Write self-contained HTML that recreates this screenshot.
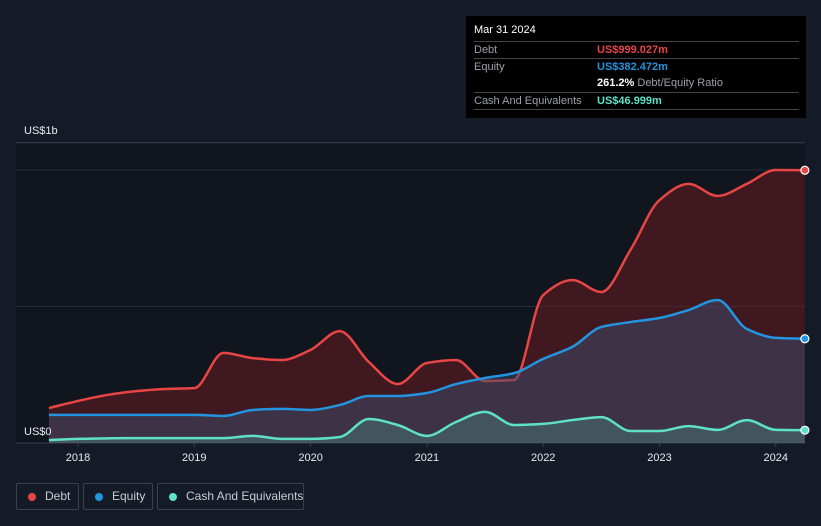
<!DOCTYPE html>
<html><head><meta charset="utf-8">
<style>
html,body{margin:0;padding:0;background:#151b26;width:821px;height:526px;overflow:hidden;font-family:"Liberation Sans",sans-serif}
#tip{position:absolute;left:466px;top:16px;width:340px;height:102px;background:#000;color:#fff;font-size:11px}
.row{position:absolute;left:8px;width:325px;border-top:1px solid #444;height:16px;line-height:16px}
.lbl{position:absolute;left:0;color:#9aa0a8;white-space:nowrap}
.val{position:absolute;left:123px;font-weight:bold;white-space:nowrap}
.leg{position:absolute;top:483px;height:27px;border:1px solid #3a404c;border-radius:2px;color:#c8ccd2;font-size:12px;line-height:25px;box-sizing:border-box;white-space:nowrap}
.dot{position:absolute;left:11px;top:9px;width:8px;height:8px;border-radius:50%}
</style></head><body>
<svg id="chart" width="821" height="526" style="position:absolute;left:0;top:0">
<rect x="16" y="143" width="789" height="300" fill="#11151e"/>
<g id="grid"></g>
<g id="series"></g>
<g id="xaxis"></g>
<text x="24" y="134" fill="#e6e8ec" font-size="11">US$1b</text>
<text x="24" y="435" fill="#e6e8ec" font-size="11">US$0</text>
</svg>
<div id="tip">
<div style="position:absolute;left:8px;top:8px;font-size:11px">Mar 31 2024</div>
<div class="row" style="top:25px"><span class="lbl">Debt</span><span class="val" style="color:#e84545">US$999.027m</span></div>
<div class="row" style="top:42px"><span class="lbl">Equity</span><span class="val" style="color:#2394e0">US$382.472m</span></div>
<div class="row" style="top:59px;border-top:none"><span class="val" style="color:#fff">261.2% <span style="color:#9aa0a8;font-weight:normal">Debt/Equity Ratio</span></span></div>
<div class="row" style="top:76px;border-bottom:1px solid #444"><span class="lbl">Cash And Equivalents</span><span class="val" style="color:#5fe0c8">US$46.999m</span></div>
</div>
<div class="leg" style="left:16px;width:63px"><span class="dot" style="background:#e84545"></span><span style="position:absolute;left:28px">Debt</span></div>
<div class="leg" style="left:83px;width:70px"><span class="dot" style="background:#2394e0"></span><span style="position:absolute;left:28px">Equity</span></div>
<div class="leg" style="left:157px;width:147px"><span class="dot" style="background:#5fe0c8"></span><span style="position:absolute;left:28px">Cash And Equivalents</span></div>
<script>
const dates=[2017.75,2018,2018.25,2018.5,2018.75,2019,2019.25,2019.5,2019.75,2020,2020.25,2020.5,2020.75,2021,2021.25,2021.5,2021.75,2022,2022.25,2022.5,2022.75,2023,2023.25,2023.5,2023.75,2024,2024.25];
const debt=[128,154,176,190,198,201,330,311,304,341,410,297,216,293,304,227,231,542,597,553,707,890,949,905,949,1000,999];
const equity=[103,103,103,103,103,103,99,121,125,121,139,172,172,183,216,238,256,308,352,425,443,458,487,524,418,385,382];
const cash=[11,15,17,18,18,18,18,26,15,15,22,88,66,26,77,114,66,70,84,95,44,44,62,48,84,48,47];
const years=[2018,2019,2020,2021,2022,2023,2024];
const gridVals=[0,500,1000,1100];
const NS='http://www.w3.org/2000/svg';
function xs(d){return 78+(d-2018)*116.3;}
function ys(v){return 443-v*0.273;}
function mk(t,a,p){const e=document.createElementNS(NS,t);for(const k in a)e.setAttribute(k,a[k]);p.appendChild(e);return e;}
const grid=document.getElementById('grid');
gridVals.forEach(v=>{const l=mk('line',{x1:16,x2:805,y1:ys(v),y2:ys(v),stroke:(v==0||v==1100)?'#3a404c':'#262b36','stroke-width':1},grid);

});
const xa=document.getElementById('xaxis');
years.forEach(y=>{const t=mk('text',{x:xs(y),y:461,fill:'#e6e8ec','font-size':11,'text-anchor':'middle'},xa);t.textContent=y;


mk('line',{x1:xs(y),x2:xs(y),y1:443,y2:447,stroke:'#3a404c'},xa);});
function path(vals){const p=vals.map((v,i)=>[xs(dates[i]),ys(v)]);const n=p.length;
const dl=[],m=[];for(let i=0;i<n-1;i++)dl.push((p[i+1][1]-p[i][1])/(p[i+1][0]-p[i][0]));
m[0]=dl[0];m[n-1]=dl[n-2];
for(let i=1;i<n-1;i++){m[i]=(dl[i-1]*dl[i]<=0)?0:2/(1/dl[i-1]+1/dl[i]);}
let d='M'+p[0][0]+','+p[0][1];
for(let i=0;i<n-1;i++){const h=(p[i+1][0]-p[i][0])/3;
d+=' C'+(p[i][0]+h)+','+(p[i][1]+m[i]*h)+' '+(p[i+1][0]-h)+','+(p[i+1][1]-m[i+1]*h)+' '+p[i+1][0]+','+p[i+1][1];}
return {d,first:p[0],last:p[n-1]};}
const g=document.getElementById('series');
[[debt,'#e84545','rgba(120,30,34,0.45)','debt'],[equity,'#2394e0','rgba(60,75,110,0.5)','equity'],[cash,'#5fe0c8','rgba(80,170,150,0.3)','cash']].forEach(s=>{
const r=path(s[0]);
const a=mk('path',{d:r.d+' L'+r.last[0]+',443 L'+r.first[0]+',443 Z',fill:s[2]},g);


const l=mk('path',{d:r.d,fill:'none',stroke:s[1],'stroke-width':2.5},g);


const c=mk('circle',{cx:r.last[0],cy:r.last[1],r:4,fill:s[1],stroke:'#fff','stroke-width':1.2},g);

});
</script>
</body></html>
